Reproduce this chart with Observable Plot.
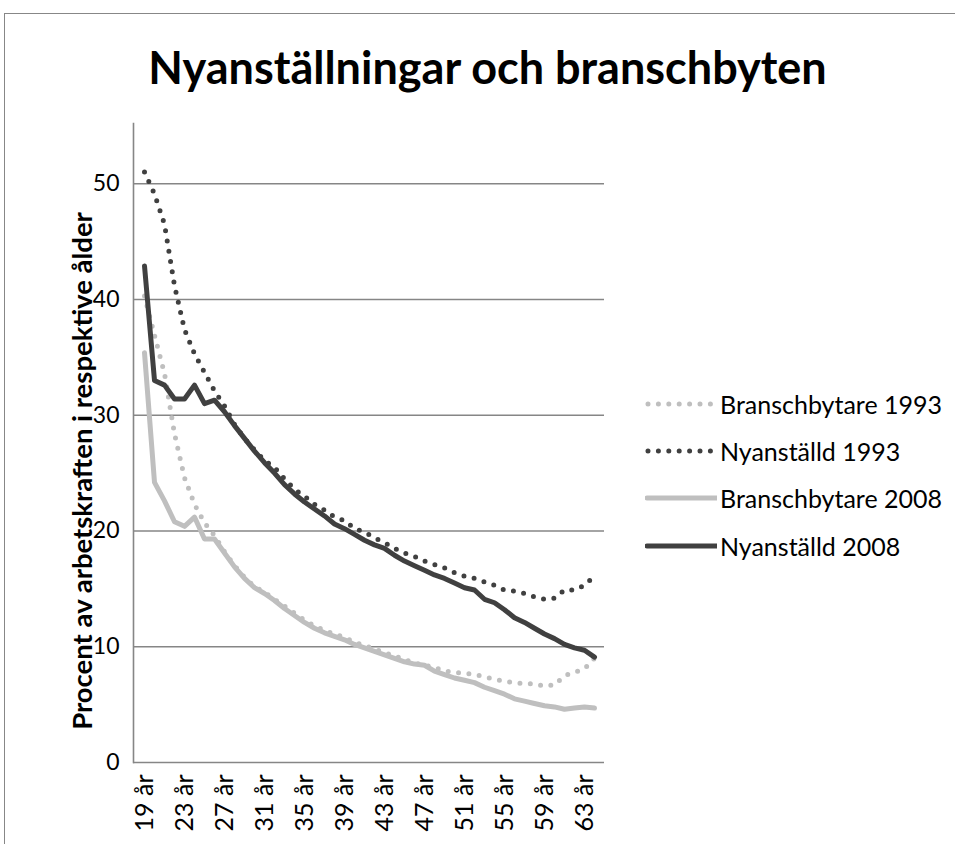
<!DOCTYPE html>
<html><head><meta charset="utf-8">
<script src="https://cdn.jsdelivr.net/npm/d3@7"></script>
<script src="https://cdn.jsdelivr.net/npm/@observablehq/plot@0.6"></script>
<style>
html,body{margin:0;padding:0;background:#fff;}
#wrap{position:relative;width:955px;height:844px;overflow:hidden;font-family:Lato,"Open Sans",sans-serif;color:#000;}
#frame{position:absolute;left:4px;top:13px;width:2000px;height:2000px;border:1.5px solid #878787;box-sizing:border-box;}
#title{position:absolute;left:0;top:37px;width:975px;text-align:center;font-weight:bold;font-size:45px;line-height:60px;white-space:nowrap;}
#ylab{position:absolute;left:81px;top:471px;transform:translate(-50%,-50%) rotate(-90deg);white-space:nowrap;font-weight:bold;font-size:27.5px;}
#chart{position:absolute;left:0;top:0;}
.leg{position:absolute;left:645px;height:30px;display:flex;align-items:center;font-size:25px;white-space:nowrap;}
.leg svg{margin-right:3px;}
</style></head>
<body><div id="wrap"><div id="frame"></div><div id="chart"></div><div id="title">Nyanställningar och branschbyten</div><div id="ylab">Procent av arbetskraften i respektive ålder</div></div>
<script>
const ages = [19,20,21,22,23,24,25,26,27,28,29,30,31,32,33,34,35,36,37,38,39,40,41,42,43,44,45,46,47,48,49,50,51,52,53,54,55,56,57,58,59,60,61,62,63,64];
const tickAges = [19,23,27,31,35,39,43,47,51,55,59,63];
const tickLabels = ["19 år","23 år","27 år","31 år","35 år","39 år","43 år","47 år","51 år","55 år","59 år","63 år"];
const yTicks = [0,10,20,30,40,50];
const seriesNames = ["Branschbytare 1993","Nyanställd 1993","Branschbytare 2008","Nyanställd 2008"];

const branschbytare1993 = [40.3,36.9,33.6,28.4,24.6,22.3,20.7,19.6,18.2,17.0,16.0,15.2,14.7,14.1,13.5,12.9,12.3,11.8,11.4,11.1,10.8,10.4,10.1,9.8,9.5,9.2,8.9,8.6,8.4,8.2,7.9,7.8,7.7,7.6,7.4,7.2,7.0,6.9,6.8,6.8,6.6,6.7,7.5,7.8,8.1,9.0];
const nyanstalld1993 = [51.0,49.1,46.5,41.2,37.4,35.3,33.7,32.1,30.8,29.2,28.0,27.0,26.1,25.5,24.5,23.6,23.0,22.3,21.8,21.2,20.9,20.2,19.9,19.4,19.0,18.5,18.1,17.8,17.4,17.1,16.8,16.4,16.1,15.9,15.6,15.3,14.9,14.8,14.6,14.3,14.1,14.2,14.9,14.9,15.3,16.1];
const branschbytare2008 = [35.4,24.2,22.6,20.8,20.4,21.2,19.3,19.3,18.1,16.9,15.9,15.1,14.6,14.0,13.3,12.7,12.1,11.6,11.2,10.9,10.6,10.2,9.9,9.6,9.3,9.0,8.7,8.5,8.4,7.9,7.6,7.3,7.1,6.9,6.5,6.2,5.9,5.5,5.3,5.1,4.9,4.8,4.6,4.7,4.8,4.7];
const nyanstalld2008 = [42.9,33.0,32.6,31.4,31.4,32.6,31.0,31.3,30.3,29.1,28.0,26.9,25.9,25.0,24.0,23.2,22.5,21.9,21.3,20.6,20.2,19.7,19.2,18.8,18.5,17.9,17.4,17.0,16.6,16.2,15.9,15.5,15.1,14.9,14.1,13.8,13.2,12.5,12.1,11.6,11.1,10.7,10.2,9.9,9.7,9.1];

const seriesValues = [branschbytare1993, nyanstalld1993, branschbytare2008, nyanstalld2008];
const seriesStyle = [
  {stroke:"#bfbfbf", strokeWidth:5, strokeDasharray:"0 10.4", strokeLinecap:"round"},
  {stroke:"#404040", strokeWidth:5, strokeDasharray:"0 10.4", strokeLinecap:"round"},
  {stroke:"#bfbfbf", strokeWidth:5, strokeLinecap:"round", strokeLinejoin:"round"},
  {stroke:"#404040", strokeWidth:5, strokeLinecap:"round", strokeLinejoin:"round"}
];
const rows = seriesNames.map((name, i) => ages.map((a, j) => ({series:name, age:a, value:seriesValues[i][j]})));
const labelOf = new Map(tickAges.map((a,i)=>[a,tickLabels[i]]));
const gray = "#868686";

const chart = Plot.plot({
  width: 955, height: 844,
  marginLeft: 133, marginRight: 351, marginTop: 123, marginBottom: 82,
  style: {fontFamily: "Lato, 'Open Sans', sans-serif", color: "#000", background: "transparent", overflow: "visible"},
  x: {type: "point", domain: ages, padding: 0.5},
  y: {domain: [0, 55.2]},
  marks: [
    Plot.gridY(yTicks.slice(1), {stroke: gray, strokeOpacity: 1, strokeWidth: 1.4}),
    Plot.ruleY([0], {stroke: gray, strokeWidth: 1.6}),
    Plot.frame({anchor: "left", stroke: gray, strokeWidth: 1.6}),
    ...rows.map((r, i) => Plot.line(r, {x: "age", y: "value", ...seriesStyle[i]})),
    Plot.axisY({ticks: yTicks, tickSize: 0, tickPadding: 14, fontSize: 23, label: null}),
    Plot.axisX({ticks: tickAges, tickFormat: d => labelOf.get(d), tickRotate: -90, tickSize: 0, tickPadding: 12, fontSize: 25, label: null})
  ]
});
document.getElementById("chart").appendChild(chart);

const wrap = document.getElementById("wrap");
const legTops = [404, 451, 498, 546];
seriesNames.forEach((name, i) => {
  const d = document.createElement("div");
  d.className = "leg";
  d.style.top = (legTops[i] - 15) + "px";
  const s = seriesStyle[i];
  const dotted = !!s.strokeDasharray;
  const len = 72;
  d.innerHTML = `<svg width="${len}" height="12"><line x1="${dotted?3:2}" y1="6" x2="${dotted?len-5:len}" y2="6" stroke="${s.stroke}" stroke-width="${s.strokeWidth}" stroke-linecap="round" ${dotted?`stroke-dasharray="${s.strokeDasharray}"`:""}/></svg><span>${name}</span>`;
  wrap.appendChild(d);
});
</script>
</body></html>
